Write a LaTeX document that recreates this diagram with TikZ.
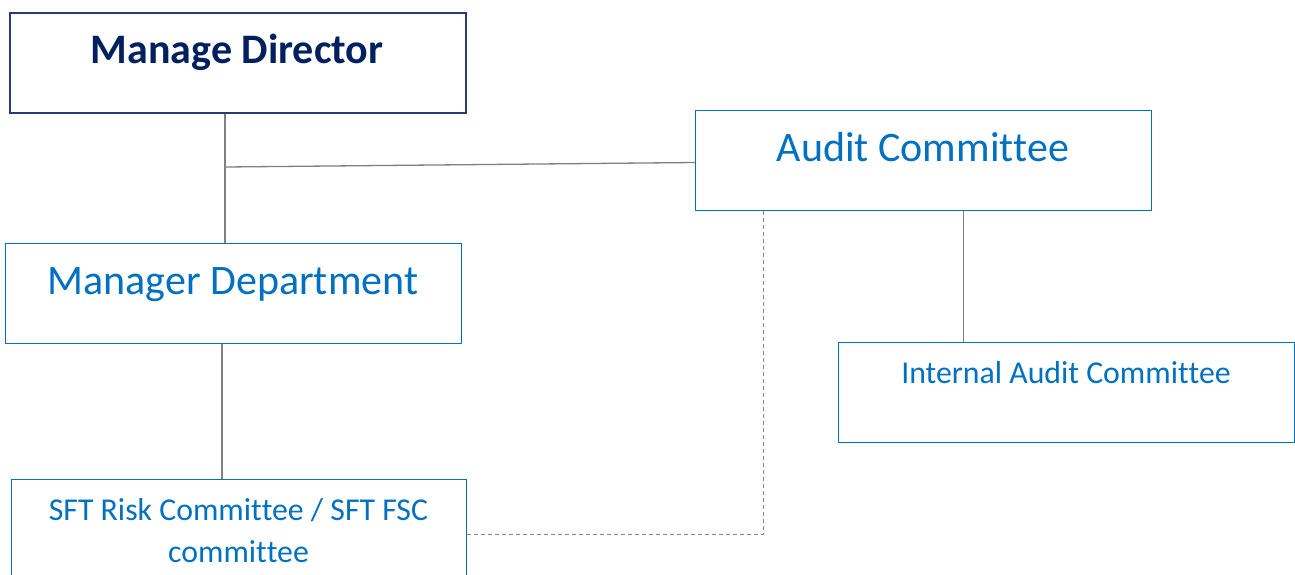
\documentclass[tikz,border=0pt]{standalone}
\usepackage{fontspec}
\setmainfont[Ligatures=NoCommon]{Carlito}
\newcommand{\brk}{\kern0pt }
\definecolor{navyb}{RGB}{40,60,110}
\definecolor{navyt}{RGB}{0,32,96}
\definecolor{blueb}{RGB}{0,112,192}
\definecolor{linegray}{RGB}{128,128,128}
\definecolor{dashgray}{RGB}{135,135,135}
\begin{document}
\begin{tikzpicture}[x=1pt,y=-1pt,
  mdbox/.style={draw=navyb, line width=1.5pt, minimum width=456pt, minimum height=100pt, inner sep=0pt, anchor=north west},
  bbox/.style={draw=blueb, line width=1.4pt, minimum width=456pt, minimum height=100pt, inner sep=0pt, anchor=north west},
  bigtext/.style={inner sep=0pt, anchor=base, text=blueb, font=\fontsize{42}{50}\selectfont},
  smalltext/.style={inner sep=0pt, anchor=base, text=blueb, font=\fontsize{31.8}{42}\selectfont},
  conn/.style={draw=linegray, line width=1.3pt},
  dconn/.style={draw=dashgray, line width=1.3pt, dash pattern=on 4pt off 3pt}]
\useasboundingbox (0,0) rectangle (1295,574);
% boxes
\node[mdbox] (md) at (9,12) {};
\node[bbox] (ac) at (695,110) {};
\node[bbox] (mgr) at (5,243) {};
\node[bbox] (iac) at (838,342) {};
\node[bbox, minimum width=455pt, minimum height=110pt] (sft) at (11,479) {};
% texts
\node[inner sep=0pt, anchor=base, text=navyt, font=\fontsize{42}{50}\selectfont\bfseries] (mdl) at (237,63) {Manage Director};
\node[bigtext] (acl) at (923,161) {Audit Commit\brk tee};
\node[bigtext] (mgrl) at (233,294) {Manager Department};
\node[smalltext] (iacl) at (1066,383) {Internal Audit Commit\brk tee};
\node[smalltext] (sftl1) at (238.5,520) {SFT Risk Commit\brk tee / SFT FSC};
\node[smalltext] (sftl2) at (238.5,562) {commit\brk tee};
% connector coordinates
\coordinate (j1) at (225,167);
\coordinate (j2) at (222,344);
\coordinate (j3) at (763.5,210);
\coordinate (j4) at (963.5,210);
% connectors
\draw[conn] (md.south -| j1) -- (mgr.north -| j1);
\draw[conn] (j1) -- (ac.west |- 0,162.5);
\draw[conn] (mgr.south -| j2) -- (sft.north -| j2);
\draw[conn] (ac.south -| j4) -- (iac.north -| j4);
\draw[dconn] (sft.east) -| (ac.south -| j3);
\end{tikzpicture}
\end{document}
